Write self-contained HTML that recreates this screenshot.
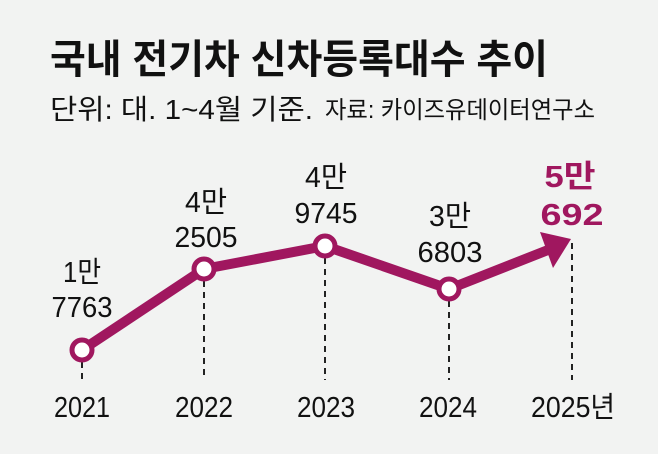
<!DOCTYPE html>
<html><head><meta charset="utf-8"><style>
html,body{margin:0;padding:0;background:#f2f3f2;}
body{width:658px;height:454px;overflow:hidden;position:relative;font-family:"Liberation Sans","Noto Sans CJK KR",sans-serif;color:#111;}
</style></head><body>
<svg width="658" height="454" viewBox="0 0 658 454" xmlns="http://www.w3.org/2000/svg" style="position:absolute;left:0;top:0">
<g font-family="Liberation Sans, Noto Sans CJK KR, sans-serif" fill="#111">
<text x="50" y="73" font-size="40" font-weight="bold" textLength="498" lengthAdjust="spacingAndGlyphs">국내 전기차 신차등록대수 추이</text>
<text x="50" y="119" font-size="28" textLength="263" lengthAdjust="spacingAndGlyphs">단위: 대. 1~4월 기준.</text>
<text x="325" y="118" font-size="24" textLength="270" lengthAdjust="spacingAndGlyphs">자료: 카이즈유데이터연구소</text>
</g>
<g stroke="#222" stroke-width="2" stroke-dasharray="6,5">
<line x1="82" y1="362" x2="82" y2="380"/>
<line x1="204" y1="281" x2="204" y2="380"/>
<line x1="325" y1="258" x2="325" y2="380"/>
<line x1="449" y1="301" x2="449" y2="380"/>
<line x1="572" y1="243" x2="572" y2="380"/>
</g>
<polyline points="82,350 204,269 325,246 449,289 548,250" fill="none" stroke="#a0175f" stroke-width="10" stroke-linejoin="round"/>
<polygon points="571,239 540,232 553,268" fill="#a0175f"/>
<g fill="#fff" stroke="#a0175f" stroke-width="5">
<circle cx="82" cy="350" r="10"/>
<circle cx="204" cy="269" r="10"/>
<circle cx="325" cy="246" r="10"/>
<circle cx="449" cy="289" r="10"/>
</g>
<g font-size="29" font-family="Liberation Sans, Noto Sans CJK KR, sans-serif" fill="#111" text-anchor="middle">
<text x="82" y="282" textLength="38" lengthAdjust="spacingAndGlyphs">1만</text><text x="82" y="317" textLength="61" lengthAdjust="spacingAndGlyphs">7763</text>
<text x="206" y="212" textLength="42" lengthAdjust="spacingAndGlyphs">4만</text><text x="206" y="247" textLength="63" lengthAdjust="spacingAndGlyphs">2505</text>
<text x="326" y="187" textLength="42" lengthAdjust="spacingAndGlyphs">4만</text><text x="326" y="223" textLength="63" lengthAdjust="spacingAndGlyphs">9745</text>
<text x="450" y="226" textLength="42" lengthAdjust="spacingAndGlyphs">3만</text><text x="450" y="262" textLength="65" lengthAdjust="spacingAndGlyphs">6803</text>
<text x="82" y="417" textLength="56" lengthAdjust="spacingAndGlyphs">2021</text><text x="204" y="417" textLength="58" lengthAdjust="spacingAndGlyphs">2022</text><text x="326" y="417" textLength="58" lengthAdjust="spacingAndGlyphs">2023</text><text x="448" y="417" textLength="58" lengthAdjust="spacingAndGlyphs">2024</text><text x="573" y="417" textLength="84" lengthAdjust="spacingAndGlyphs">2025년</text>
</g>
<g font-size="31" font-weight="bold" font-family="Liberation Sans, Noto Sans CJK KR, sans-serif" fill="#a0175f" text-anchor="middle">
<text x="570" y="187" textLength="51" lengthAdjust="spacingAndGlyphs">5만</text><text x="572" y="225" textLength="63" lengthAdjust="spacingAndGlyphs">692</text>
</g>
</svg>
</body></html>
